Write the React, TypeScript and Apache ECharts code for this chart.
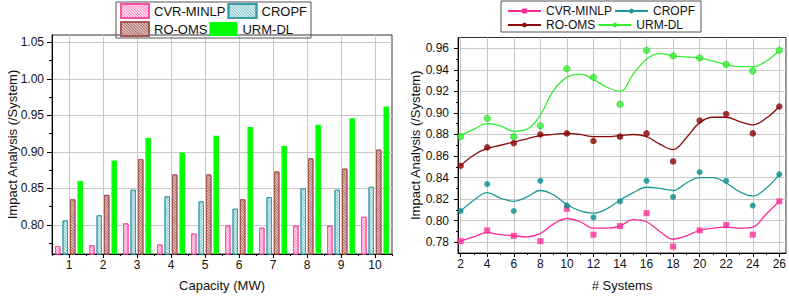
import React, { useEffect, useRef } from 'react';
import * as echarts from 'echarts';

// ---------- Left chart (bars) ----------
const capacities = ['1', '2', '3', '4', '5', '6', '7', '8', '9', '10'];
const barCvrMinlp = [0.771, 0.772, 0.802, 0.773, 0.788, 0.799, 0.796, 0.799, 0.799, 0.811];
const barCropf = [0.806, 0.813, 0.848, 0.839, 0.832, 0.822, 0.838, 0.850, 0.848, 0.852];
const barRoOms = [0.835, 0.841, 0.890, 0.869, 0.869, 0.835, 0.873, 0.891, 0.877, 0.903];
const barUrmDl = [0.860, 0.888, 0.919, 0.899, 0.922, 0.934, 0.908, 0.937, 0.946, 0.962];
const leftYTicks = [0.8, 0.85, 0.9, 0.95, 1.0, 1.05];
const leftYMinorTicks = [0.775, 0.825, 0.875, 0.925, 0.975, 1.025];

// ---------- Right chart (points + smooth fits) ----------
const systems = [2, 4, 6, 8, 10, 12, 14, 16, 18, 20, 22, 24, 26];
const ptsCvrMinlp = [0.781, 0.791, 0.786, 0.781, 0.811, 0.787, 0.795, 0.807, 0.776, 0.791, 0.796, 0.787, 0.818];
const ptsCropf = [0.809, 0.834, 0.809, 0.837, 0.814, 0.803, 0.818, 0.837, 0.822, 0.845, 0.837, 0.814, 0.843];
const ptsRoOms = [0.851, 0.868, 0.872, 0.880, 0.881, 0.874, 0.878, 0.881, 0.855, 0.893, 0.899, 0.881, 0.906];
const ptsUrmDl = [0.878, 0.895, 0.878, 0.888, 0.941, 0.933, 0.908, 0.958, 0.953, 0.951, 0.945, 0.939, 0.958];

const fitX = [2, 3, 4, 5, 6, 7, 8, 9, 10, 11, 12, 13, 14, 15, 16, 17, 18, 19, 20, 21, 22, 23, 24, 25, 26];
const fitCvrMinlp = [0.781, 0.785, 0.789, 0.787, 0.786, 0.785, 0.788, 0.797, 0.802, 0.799, 0.793, 0.793, 0.795, 0.801, 0.799, 0.790, 0.783, 0.786, 0.791, 0.793, 0.794, 0.793, 0.794, 0.806, 0.818];
const fitCropf = [0.809, 0.819, 0.826, 0.821, 0.818, 0.822, 0.828, 0.824, 0.815, 0.809, 0.807, 0.811, 0.819, 0.826, 0.831, 0.830, 0.828, 0.835, 0.840, 0.840, 0.835, 0.827, 0.823, 0.830, 0.843];
const fitRoOms = [0.851, 0.861, 0.867, 0.870, 0.873, 0.876, 0.879, 0.880, 0.881, 0.880, 0.878, 0.878, 0.879, 0.880, 0.878, 0.871, 0.866, 0.877, 0.891, 0.896, 0.896, 0.892, 0.889, 0.895, 0.906];
const fitUrmDl = [0.879, 0.885, 0.890, 0.888, 0.883, 0.885, 0.898, 0.921, 0.933, 0.936, 0.931, 0.924, 0.920, 0.936, 0.950, 0.955, 0.953, 0.952, 0.951, 0.948, 0.945, 0.943, 0.943, 0.948, 0.958];

const systemTicks = [2, 4, 6, 8, 10, 12, 14, 16, 18, 20, 22, 24, 26];
const systemMinorTicks = [3, 5, 7, 9, 11, 13, 15, 17, 19, 21, 23, 25];
const rightYTicks = [0.78, 0.8, 0.82, 0.84, 0.86, 0.88, 0.9, 0.92, 0.94, 0.96];
const rightYMinorTicks = [0.79, 0.81, 0.83, 0.85, 0.87, 0.89, 0.91, 0.93, 0.95];

const methodNames = ['CVR-MINLP', 'CROPF', 'RO-OMS', 'URM-DL'];

const FONT = '"Liberation Sans", Arial, Helvetica, sans-serif';
const TXT = '#111';
const GRID = '#c8c8c8';
const AX = '#000';

const PINK = '#ff2a96';
const TEAL = '#1f9a9a';
const BROWN = '#8b0a0a';
const GREEN = '#33f033';

export default function App() {
  const ref = useRef<HTMLDivElement>(null);
  useEffect(() => {
    if (!ref.current) return;
    const chart = echarts.init(ref.current, undefined, { renderer: 'svg' });

    const axisLine = { show: true, onZero: false, lineStyle: { color: AX, width: 1 } };
    const label = (fs: number, margin: number, extra: any = {}) => ({
      fontSize: fs, color: TXT, fontFamily: FONT, margin, ...extra,
    });
    const nameStyle = { fontSize: 13, color: TXT, fontFamily: FONT };

    const hatch = (border: string, fill: string, line: string) => ({
      color: fill,
      borderColor: border,
      borderWidth: 1,
      decal: {
        symbol: 'rect',
        symbolSize: 1,
        color: line,
        dashArrayX: [1, 0],
        dashArrayY: [1, 1],
        rotation: Math.PI / 4,
      },
    });

    const barBase = { type: 'bar', xAxisIndex: 0, yAxisIndex: 0, barGap: '36%', barCategoryGap: '18%' };

    const option: any = {
      animation: false,
      textStyle: { fontFamily: FONT },
      legend: [
        {
          data: methodNames,
          left: 116,
          top: 2,
          width: 190,
          padding: [1, 4, 1, 4],
          itemGap: 2,
          itemWidth: 28,
          itemHeight: 14,
          icon: 'rect',
          borderColor: '#555',
          borderWidth: 1,
          selectedMode: false,
          textStyle: { fontSize: 13, color: TXT, fontFamily: FONT },
        },
        {
          data: methodNames.map((n) => 'r:' + n),
          formatter: (n: string) => n.replace('r:', ''),
          left: 501,
          top: 1,
          width: 190,
          padding: [4, 6, 1, 6],
          itemGap: 2,
          itemWidth: 33,
          itemHeight: 6,
          borderColor: '#555',
          borderWidth: 1,
          selectedMode: false,
          textStyle: { fontSize: 12, color: TXT, fontFamily: FONT },
        },
      ],
      grid: [
        { left: 52, top: 35, width: 340, height: 220, show: true, borderColor: '#333', borderWidth: 1, backgroundColor: 'transparent' },
        { left: 458, top: 37.5, width: 329, height: 217.5, show: true, borderColor: '#333', borderWidth: 1, backgroundColor: 'transparent' },
      ],
      xAxis: [
        {
          type: 'category', gridIndex: 0, data: capacities,
          axisLine,
          axisTick: { show: true, alignWithLabel: true, length: 4, lineStyle: { color: AX } },
          axisLabel: label(12, 5),
          splitLine: { show: true, alignWithLabel: true, lineStyle: { color: GRID, width: 1 } },
          name: 'Capacity (MW)', nameLocation: 'middle', nameGap: 25, nameTextStyle: nameStyle, nameMoveOverlap: false,
        },
        {
          type: 'category', gridIndex: 0, data: capacities, position: 'bottom',
          axisLine: { show: false },
          axisTick: { show: true, length: 2, lineStyle: { color: AX } },
          axisLabel: { show: false },
          splitLine: { show: false },
        },
        {
          type: 'value', gridIndex: 1, min: 1.8, max: 26.5,
          axisLine,
          axisTick: { show: true, customValues: systemTicks, length: 4, lineStyle: { color: AX } },
          axisLabel: label(12, 5, { customValues: systemTicks }),
          splitLine: { show: true, lineStyle: { color: GRID, width: 1 } },
          name: '# Systems', nameLocation: 'middle', nameGap: 26, nameTextStyle: nameStyle, nameMoveOverlap: false,
        },
        {
          type: 'value', gridIndex: 1, min: 1.8, max: 26.5, position: 'bottom',
          axisLine: { show: false },
          axisTick: { show: true, customValues: systemMinorTicks, length: 2, lineStyle: { color: AX } },
          axisLabel: { show: false },
          splitLine: { show: false },
        },
      ],
      yAxis: [
        {
          type: 'value', gridIndex: 0, min: 0.76, max: 1.06,
          axisLine,
          axisTick: { show: true, customValues: leftYTicks, length: 5, lineStyle: { color: AX } },
          axisLabel: label(12, 8, { customValues: leftYTicks, formatter: (v: number) => v.toFixed(2) }),
          splitLine: { show: true, lineStyle: { color: GRID, width: 1 } },
          name: 'Impact Analysis (/System)', nameLocation: 'middle', nameGap: 33, nameTextStyle: nameStyle, nameMoveOverlap: false,
        },
        {
          type: 'value', gridIndex: 0, min: 0.76, max: 1.06, position: 'left',
          axisLine: { show: false },
          axisTick: { show: true, customValues: leftYMinorTicks, length: 3, lineStyle: { color: AX } },
          axisLabel: { show: false },
          splitLine: { show: false },
        },
        {
          type: 'value', gridIndex: 1, min: 0.77, max: 0.97,
          axisLine,
          axisTick: { show: true, customValues: rightYTicks, length: 4, lineStyle: { color: AX } },
          axisLabel: label(12, 9, { customValues: rightYTicks, formatter: (v: number) => v.toFixed(2) }),
          splitLine: { show: true, lineStyle: { color: GRID, width: 1 } },
          name: 'Impact Analysis (/System)', nameLocation: 'middle', nameGap: 36, nameTextStyle: nameStyle, nameMoveOverlap: false,
        },
        {
          type: 'value', gridIndex: 1, min: 0.77, max: 0.97, position: 'left',
          axisLine: { show: false },
          axisTick: { show: true, customValues: rightYMinorTicks, length: 2, lineStyle: { color: AX } },
          axisLabel: { show: false },
          splitLine: { show: false },
        },
      ],
      series: [
        { ...barBase, name: 'CVR-MINLP', data: barCvrMinlp, itemStyle: hatch('#ff4fa3', '#fff4fa', 'rgba(255,100,175,0.8)') },
        { ...barBase, name: 'CROPF', data: barCropf, itemStyle: hatch('#3c9ea8', '#f2fafa', 'rgba(90,180,190,0.8)') },
        { ...barBase, name: 'RO-OMS', data: barRoOms, itemStyle: hatch('#a45a56', '#ecd9d9', 'rgba(160,84,80,0.9)') },
        { ...barBase, name: 'URM-DL', data: barUrmDl, itemStyle: { color: '#00ff00' } },

        ...[
          [fitCvrMinlp, PINK, 'rect', 0],
          [fitCropf, TEAL, 'circle', 1],
          [fitRoOms, BROWN, 'circle', 2],
          [fitUrmDl, GREEN, 'circle', 3],
        ].map(([fit, color, sym, i]: any) => ({
          type: 'line',
          name: 'r:' + methodNames[i],
          xAxisIndex: 2, yAxisIndex: 2,
          data: fitX.map((x, k) => [x, fit[k]]),
          smooth: 0.4,
          showSymbol: false,
          symbol: sym,
          symbolSize: 5,
          lineStyle: { color, width: 1.3 },
          itemStyle: { color },
          z: 3,
        })),
        ...[
          [ptsCvrMinlp, PINK, 'rect', 0, 6],
          [ptsCropf, '#078c8c', 'circle', 1, 6],
          [ptsRoOms, '#8b0000', 'circle', 2, 6.5],
          [ptsUrmDl, '#2ef52e', 'circle', 3, 6.5],
        ].map(([pts, color, sym, i, size]: any) => ({
          type: 'scatter',
          name: 'p:' + methodNames[i],
          xAxisIndex: 2, yAxisIndex: 2,
          data: systems.map((x, k) => [x, pts[k]]),
          symbol: sym,
          symbolSize: size,
          itemStyle: i === 3 ? { color, borderColor: '#1cb81c', borderWidth: 0.6 } : { color },
          z: 4,
        })),
      ],
    };

    chart.setOption(option);
    return () => chart.dispose();
  }, []);

  return (
    <div
      ref={ref}
      style={{ position: 'absolute', left: 0, top: 0, width: 789, height: 297, background: '#fff' }}
    />
  );
}
